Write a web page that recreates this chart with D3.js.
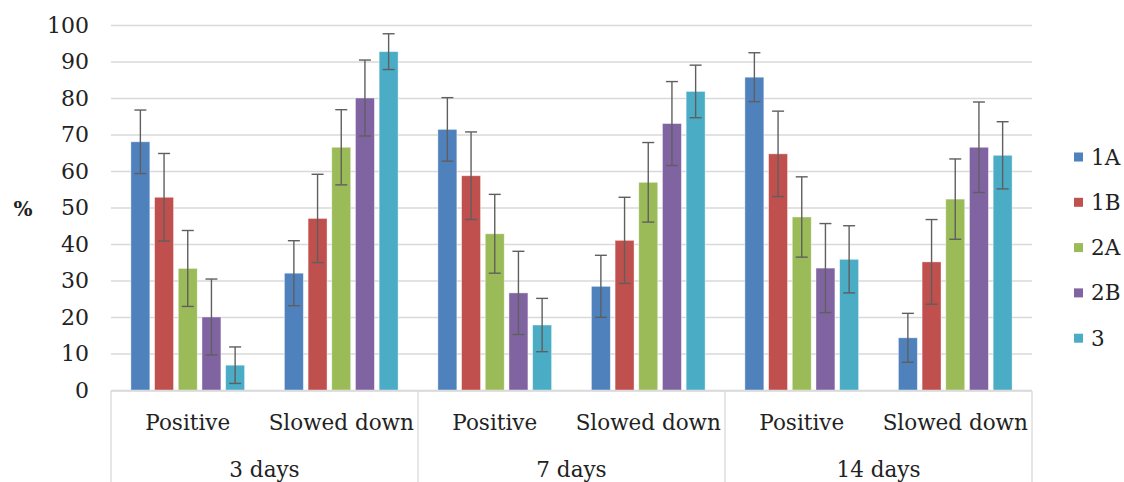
<!DOCTYPE html>
<html>
<head>
<meta charset="utf-8">
<script src="https://cdn.jsdelivr.net/npm/d3@7"></script>
<style>
  body { margin: 0; background: #fff; }
  svg text { font-family: "DejaVu Serif", serif; }
</style>
</head>
<body>
<svg id="chart"></svg>
<script>
const periods = ['3 days', '7 days', '14 days'];
const outcomes = ['Positive', 'Slowed down'];
const groups = ['1A', '1B', '2A', '2B', '3'];
const colors = ['#4f81bd', '#c0504d', '#9bbb59', '#8064a2', '#4bacc6'];
const yTicks = [0, 10, 20, 30, 40, 50, 60, 70, 80, 90, 100];

// one row per period/outcome, values in group order
const values = [
  [68, 52.8, 33.3, 20, 6.8],
  [32, 47, 66.5, 80, 92.7],
  [71.4, 58.7, 42.8, 26.6, 17.8],
  [28.4, 41, 56.9, 73, 81.8],
  [85.7, 64.7, 47.4, 33.4, 35.8],
  [14.3, 35.1, 52.3, 66.5, 64.3]
];
const errors = [
  [8.7, 12, 10.4, 10.4, 5],
  [8.9, 12.1, 10.3, 10.4, 4.9],
  [8.7, 12, 10.8, 11.4, 7.3],
  [8.5, 11.8, 10.9, 11.5, 7.2],
  [6.7, 11.7, 11, 12.2, 9.2],
  [6.7, 11.6, 11, 12.4, 9.2]
];

const width = 1124, height = 482;
const plot = { left: 111, right: 1032, top: 25, bottom: 390 };

const svg = d3.select('#chart')
  .attr('width', width)
  .attr('height', height);

const cats = [];
periods.forEach(p => outcomes.forEach(o => cats.push(p + '|' + o)));

const x0 = d3.scaleBand().domain(cats).range([plot.left, plot.right]).padding(0);
const x1 = d3.scaleBand().domain(groups).range([0, x0.bandwidth()])
  .paddingInner(0.2).paddingOuter(0.84);
const xp = d3.scaleBand().domain(periods).range([plot.left, plot.right]);
const y = d3.scaleLinear().domain([0, 100]).range([plot.bottom, plot.top]);

// gridlines + y labels
const yAxis = d3.axisLeft(y).tickValues(yTicks).tickSize(-(plot.right - plot.left)).tickPadding(22);
svg.append('g')
  .attr('transform', `translate(${plot.left},0)`)
  .call(yAxis)
  .call(g => g.select('.domain').remove())
  .call(g => g.selectAll('.tick line').attr('stroke', '#d9d9d9').attr('stroke-width', 1.3))
  .call(g => g.selectAll('.tick text').attr('font-size', 22).attr('fill', '#222'));

svg.append('text')
  .attr('x', 23).attr('y', 216)
  .attr('text-anchor', 'middle')
  .attr('font-size', 20).attr('font-weight', 'bold')
  .attr('fill', '#222')
  .text('%');

// bars
const rows = [];
cats.forEach((c, i) => groups.forEach((g, j) => {
  rows.push({ cat: c, group: g, v: values[i][j], e: errors[i][j], color: colors[j] });
}));

svg.append('g').selectAll('rect')
  .data(rows)
  .join('rect')
  .attr('x', d => x0(d.cat) + x1(d.group))
  .attr('y', d => y(d.v))
  .attr('width', x1.bandwidth())
  .attr('height', d => y(0) - y(d.v))
  .attr('fill', d => d.color)
  .attr('stroke', '#fff')
  .attr('stroke-opacity', 0.5)
  .attr('stroke-width', 0.8);

// error bars
const eb = svg.append('g').attr('stroke', '#5f5f5f').attr('stroke-width', 1.4);
rows.forEach(d => {
  const cx = x0(d.cat) + x1(d.group) + x1.bandwidth() / 2;
  eb.append('line').attr('x1', cx).attr('x2', cx).attr('y1', y(d.v + d.e)).attr('y2', y(d.v - d.e));
  eb.append('line').attr('x1', cx - 6).attr('x2', cx + 6).attr('y1', y(d.v + d.e)).attr('y2', y(d.v + d.e));
  eb.append('line').attr('x1', cx - 6).attr('x2', cx + 6).attr('y1', y(d.v - d.e)).attr('y2', y(d.v - d.e));
});

// category axis
const ax = svg.append('g').attr('stroke', '#d9d9d9').attr('stroke-width', 1.3);
ax.append('line').attr('x1', plot.left).attr('x2', plot.right).attr('y1', y(0) + 1).attr('y2', y(0) + 1);
[plot.left].concat(periods.map(p => xp(p) + xp.bandwidth())).forEach(xx => {
  ax.append('line').attr('x1', xx).attr('x2', xx).attr('y1', y(0) + 1).attr('y2', height);
});

svg.append('g').selectAll('text')
  .data(cats)
  .join('text')
  .attr('x', d => x0(d) + x0.bandwidth() / 2)
  .attr('y', 430)
  .attr('text-anchor', 'middle')
  .attr('font-size', 21.5)
  .attr('fill', '#222')
  .text(d => d.split('|')[1]);

svg.append('g').selectAll('text')
  .data(periods)
  .join('text')
  .attr('x', d => xp(d) + xp.bandwidth() / 2)
  .attr('y', 477)
  .attr('text-anchor', 'middle')
  .attr('font-size', 21.5)
  .attr('fill', '#222')
  .text(d => d);

// legend
const legend = svg.append('g').selectAll('g')
  .data(groups)
  .join('g')
  .attr('transform', (d, i) => `translate(1074,${157 + i * 45.3})`);
legend.append('rect')
  .attr('x', 0).attr('y', -4.5).attr('width', 9).attr('height', 9)
  .attr('fill', (d, i) => colors[i]);
legend.append('text')
  .attr('x', 17).attr('y', 7.5)
  .attr('font-size', 21.5)
  .attr('fill', '#222')
  .text(d => d);
</script>
</body>
</html>
